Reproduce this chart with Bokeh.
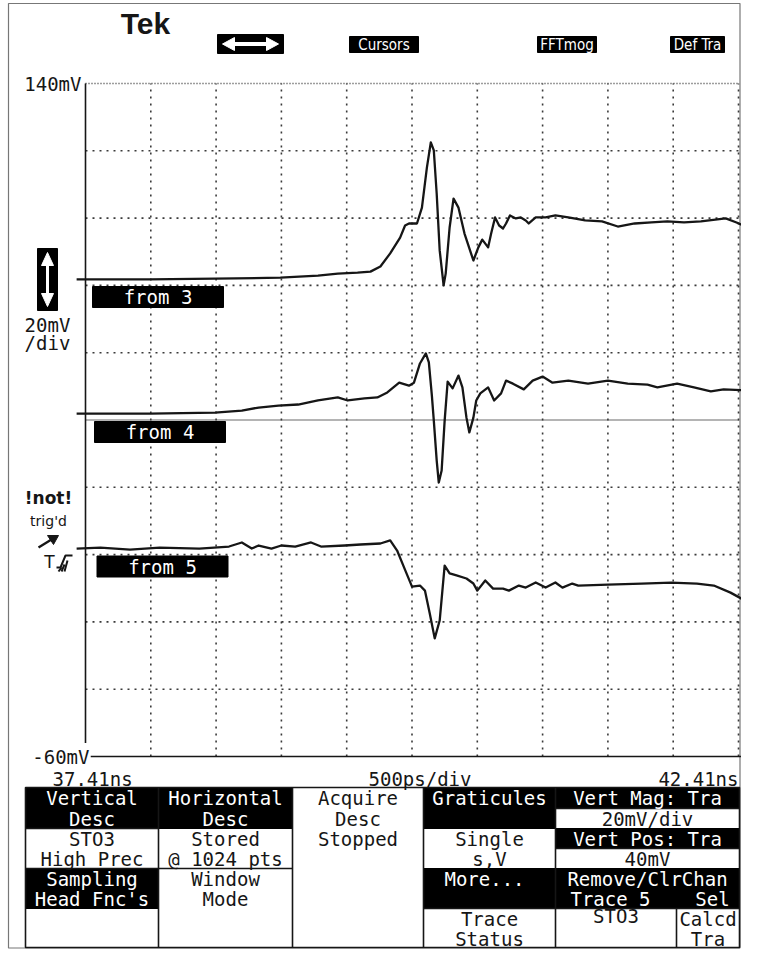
from bokeh.plotting import figure
from bokeh.models import Range1d
from bokeh.embed import file_html
from bokeh.resources import INLINE
from bokeh.core.properties import value

# ---------------- data (time in ns, displayed level in mV) ----------------
t_from3 = [37.342, 37.902, 38.402, 38.902, 39.190, 39.342, 39.493, 39.592, 39.668, 39.743,
           39.819, 39.857, 39.887, 39.948, 39.986, 40.024, 40.054, 40.077, 40.099, 40.122,
           40.152, 40.168, 40.198, 40.228, 40.266, 40.312, 40.380, 40.418, 40.448, 40.493,
           40.516, 40.546, 40.577, 40.607, 40.630, 40.660, 40.705, 40.743, 40.781, 40.804,
           40.857, 40.933, 41.008, 41.107, 41.236, 41.365, 41.486, 41.615, 41.743, 41.865,
           41.993, 42.122, 42.312, 42.395, 42.463]
mv_from3 = [81.8, 81.8, 82.0, 82.3, 82.9, 83.5, 83.8, 84.1, 85.6, 89.5,
            94.2, 97.8, 98.4, 98.4, 103.1, 115.0, 122.5, 120.1, 107.3, 90.4,
            80.0, 83.5, 97.2, 105.8, 103.1, 95.4, 87.4, 91.3, 93.6, 91.3,
            95.4, 100.2, 97.8, 96.9, 98.4, 100.8, 99.9, 100.2, 99.3, 98.4,
            100.2, 100.2, 100.8, 100.2, 99.3, 99.0, 97.5, 98.4, 98.7, 99.0,
            98.7, 99.0, 99.9, 98.7, 97.5]

t_from4 = [37.342, 37.902, 38.402, 38.607, 38.736, 38.887, 39.039, 39.190, 39.342, 39.418,
           39.546, 39.645, 39.721, 39.812, 39.887, 39.925, 39.971, 40.016, 40.039, 40.062,
           40.077, 40.099, 40.115, 40.137, 40.160, 40.183, 40.221, 40.266, 40.296, 40.327,
           40.349, 40.380, 40.402, 40.433, 40.493, 40.539, 40.592, 40.630, 40.683, 40.766,
           40.834, 40.910, 40.986, 41.107, 41.258, 41.410, 41.562, 41.713, 41.789, 41.940,
           42.069, 42.198, 42.296, 42.463]
mv_from4 = [41.9, 41.9, 42.2, 42.8, 43.7, 44.3, 44.6, 45.8, 46.7, 45.8,
            46.4, 46.7, 48.2, 51.1, 50.2, 51.1, 56.8, 59.8, 57.1, 47.3,
            39.8, 28.0, 21.4, 25.0, 39.8, 51.4, 49.4, 53.2, 49.7, 40.7,
            36.3, 40.7, 45.8, 47.9, 49.7, 45.8, 47.9, 51.7, 50.8, 49.1,
            51.7, 52.9, 51.1, 51.7, 50.8, 51.7, 50.8, 50.5, 49.7, 50.8,
            49.7, 48.5, 49.1, 48.8]

t_from5 = [37.342, 37.524, 37.751, 37.978, 38.281, 38.509, 38.607, 38.683, 38.736, 38.834,
           38.910, 39.016, 39.137, 39.213, 39.395, 39.516, 39.668, 39.743, 39.796, 39.849,
           39.910, 39.971, 40.009, 40.046, 40.084, 40.122, 40.160, 40.198, 40.251, 40.327,
           40.380, 40.410, 40.471, 40.531, 40.607, 40.652, 40.728, 40.781, 40.857, 40.933,
           41.008, 41.062, 41.137, 41.183, 41.410, 41.668, 41.895, 42.092, 42.221, 42.349,
           42.433]
mv_from5 = [1.8, 2.1, 1.5, 2.1, 1.8, 2.4, 3.6, 1.8, 2.7, 1.8,
            2.7, 2.4, 3.6, 2.4, 2.7, 3.0, 3.3, 4.2, 1.2, -3.8,
            -9.5, -9.2, -10.7, -17.5, -24.9, -19.6, -3.3, -5.6, -6.2, -7.1,
            -8.6, -10.7, -7.7, -10.1, -10.1, -10.7, -9.2, -9.8, -8.3, -9.8,
            -8.3, -9.8, -8.6, -9.2, -8.9, -8.6, -8.3, -8.6, -9.2, -11.3,
            -13.1]

trace_names = ["from 3", "from 4", "from 5"]

time_ticks_ns = [37.41, 37.91, 38.41, 38.91, 39.41, 39.91, 40.41, 40.91, 41.41, 41.91, 42.41]
level_ticks_mv = [-60, -40, -20, 0, 20, 40, 60, 80, 100, 120, 140]
time_labels = ["37.41ns", "500ps/div", "42.41ns"]
level_labels = ["140mV", "-60mV"]

# ---------------- layout (canvas pixels) ----------------
W, H = 741, 949
GX0, GX1 = 85, 738      # graticule left/right
GY0, GY1 = 83, 756      # graticule top/bottom

t_lo, t_hi = time_ticks_ns[0], time_ticks_ns[-1]
v_lo, v_hi = level_ticks_mv[0], level_ticks_mv[-1]
ns_px = (t_hi - t_lo) / (GX1 - GX0)
mv_px = (v_hi - v_lo) / (GY1 - GY0)

p = figure(width=W, height=H, x_range=Range1d(0, W), y_range=Range1d(H, 0),
           x_axis_location=None, y_axis_location=None, toolbar_location=None,
           output_backend="svg", min_border=0, outline_line_color=None,
           background_fill_color="white", border_fill_color="white")
p.extra_x_ranges = {"t": Range1d(t_lo - GX0 * ns_px, t_hi + (W - GX1) * ns_px)}
p.extra_y_ranges = {"mv": Range1d(v_lo - (H - GY1) * mv_px, v_hi + GY0 * mv_px)}
p.grid.grid_line_color = None

MONO = value("DejaVu Sans Mono")
INK = "#161616"
GRID = "#3a3a3a"

# outer frame of the photo
p.quad(left=[8], right=[739.5], top=[3], bottom=[947.5], fill_color=None,
       line_color="#777777", line_width=1.2)

# ---------------- graticule ----------------
tr = dict(x_range_name="t", y_range_name="mv")
vt = time_ticks_ns[1:]
p.segment(x0=vt, y0=[v_lo] * len(vt), x1=vt, y1=[v_hi] * len(vt),
          line_color=GRID, line_width=1.6, line_dash="2 5", **tr)
hl = [v for v in level_ticks_mv[1:-1] if v != 40]
p.segment(x0=[t_lo] * len(hl), y0=hl, x1=[t_hi] * len(hl), y1=hl,
          line_color=GRID, line_width=1.6, line_dash="2 5", **tr)
p.segment(x0=[t_lo], y0=[40], x1=[t_hi], y1=[40],
          line_color=GRID, line_width=1.4, line_dash="1 1", **tr)
p.segment(x0=[t_lo], y0=[v_hi], x1=[t_hi], y1=[v_hi],
          line_color=GRID, line_width=1.4, line_dash="1 2", **tr)
# solid left axis and bottom line
p.segment(x0=[t_lo], y0=[v_lo + 4], x1=[t_lo], y1=[v_hi],
          line_color=INK, line_width=1.6, **tr)
p.segment(x0=[t_lo + 0.04], y0=[v_lo], x1=[t_hi + 0.03], y1=[v_lo],
          line_color=INK, line_width=1.6, **tr)

# ---------------- traces ----------------
for tt, vv in [(t_from3, mv_from3), (t_from4, mv_from4), (t_from5, mv_from5)]:
    p.line(tt, vv, line_color=INK, line_width=2.3, line_join="round", **tr)

# trace labels (black tags)
tag_x = [157.5, 159.5, 162]
tag_y = [296.5, 431.5, 566]
p.rect(x=tag_x, y=tag_y, width=131, height=21, fill_color="black", line_color="black")
p.text(x=tag_x, y=tag_y, text=trace_names, text_font=MONO, text_font_size="19px",
       text_color="white", text_align="center", text_baseline="middle")

# ---------------- axis texts ----------------
p.text(x=[81], y=[level_ticks_mv[-1]], text=[level_labels[0]], text_font=MONO,
       text_font_size="19px", text_color=INK, text_align="right", text_baseline="middle",
       y_range_name="mv")
p.text(x=[89], y=[level_ticks_mv[0]], text=[level_labels[1]], text_font=MONO,
       text_font_size="19px", text_color=INK, text_align="right", text_baseline="middle",
       y_range_name="mv")
p.text(x=[time_ticks_ns[0]], y=[778], text=[time_labels[0]], text_font=MONO,
       text_font_size="19px", text_color=INK, text_align="left", text_baseline="middle",
       x_offset=-33, x_range_name="t")
p.text(x=[(time_ticks_ns[0] + time_ticks_ns[-1]) / 2], y=[778], text=[time_labels[1]],
       text_font=MONO, text_font_size="19px", text_color=INK, text_align="center",
       text_baseline="middle", x_offset=8, x_range_name="t")
p.text(x=[time_ticks_ns[-1]], y=[778], text=[time_labels[2]], text_font=MONO,
       text_font_size="19px", text_color=INK, text_align="right", text_baseline="middle",
       x_offset=0, x_range_name="t")

# ---------------- left side indicators ----------------
p.rect(x=[47], y=[279], width=20, height=62, fill_color="black", line_color="black")
p.segment(x0=[47], y0=[262], x1=[47], y1=[296], line_color="white", line_width=3)
p.patches(xs=[[47, 41, 53], [47, 41, 53]], ys=[[252, 265, 265], [306, 293, 293]],
          fill_color="white", line_color="white")
p.text(x=[47, 47], y=[324, 342], text=["20mV", "/div"], text_font=MONO,
       text_font_size="19px", text_color=INK, text_align="center", text_baseline="middle")
p.text(x=[48], y=[497], text=["!not!"], text_font=value("DejaVu Sans"),
       text_font_size="17px", text_font_style="bold", text_color=INK,
       text_align="center", text_baseline="middle")
p.text(x=[48], y=[520], text=["trig'd"], text_font=value("DejaVu Sans"),
       text_font_size="14px", text_color=INK, text_align="center", text_baseline="middle")
p.segment(x0=[38], y0=[547], x1=[51], y1=[539], line_color=INK, line_width=2.5)
p.patches(xs=[[58, 47, 53]], ys=[[535, 535, 544]], fill_color=INK, line_color=INK)
p.text(x=[49], y=[561], text=["T"], text_font=value("DejaVu Sans"),
       text_font_size="17px", text_color=INK, text_align="center", text_baseline="middle")
p.multi_line(xs=[[56, 60, 65, 72], [58, 61], [61, 64], [64, 67]],
             ys=[[567, 567, 555, 555], [571, 567], [571, 564], [571, 560]],
             line_color=INK, line_width=2)

# ---------------- top bar ----------------
p.text(x=[145], y=[23], text=["Tek"], text_font=value("Liberation Sans"),
       text_font_size="30px", text_font_style="bold", text_color=INK,
       text_align="center", text_baseline="middle")
p.quad(left=[217, 349, 537, 670], right=[283, 418, 596, 724],
       top=[34, 36, 36, 36], bottom=[53, 52, 52, 52], fill_color="black", line_color="black")
p.segment(x0=[232], y0=[43.5], x1=[268], y1=[43.5], line_color="white", line_width=4)
p.patches(xs=[[222, 234, 234], [278, 266, 266]], ys=[[43.5, 37, 50], [43.5, 37, 50]],
          fill_color="white", line_color="white")
p.text(x=[383.5, 566.5, 697], y=[44, 44, 44], text=["Cursors", "FFTmog", "Def Tra"],
       text_font=value("DejaVu Sans Condensed"), text_font_size="15px", text_color="white",
       text_align="center", text_baseline="middle")

# ---------------- menu table ----------------
R0, R1, R2, R3, R4 = 787, 828, 868, 908, 947
C0, C1, C2, C3, C4, C5, C6 = 25, 158, 292, 423, 555, 676, 739
SA, SB = R0 + 21, R1 + 20
black_l = [C0, C3, C4, C4, C0, C3]
black_r = [C2, C4, C6, C6, C1, C6]
black_t = [R0, R0, R0, R1, R2, R2]
black_b = [R1, R1, SA, SB, R3, R3]
p.quad(left=black_l, right=black_r, top=black_t, bottom=black_b,
       fill_color="black", line_color="black")
p.quad(left=[C0], right=[C6], top=[R0], bottom=[R4], fill_color=None,
       line_color=INK, line_width=1.6)
p.segment(x0=[C1, C2, C3, C4, C5, C0, C0, C3, C4, C4],
          y0=[R0, R0, R0, R0, R3, R2, R1, R3, SA, SB],
          x1=[C1, C2, C3, C4, C5, C2, C1, C6, C6, C6],
          y1=[R4, R4, R4, R4, R4, R2, R1, R3, SA, SB],
          line_color=INK, line_width=1.6)

m0, m1, m2, m3 = (C0 + C1) / 2, (C1 + C2) / 2, (C2 + C3) / 2, (C3 + C4) / 2
m46, m4, m5 = (C4 + C6) / 2, (C4 + C5) / 2, (C5 + C6) / 2
a1, a2 = R0 + 10, R0 + 31
b1, b2 = R1 + 10, R1 + 30
c1, c2 = R2 + 10, R2 + 30
d1, d2 = R3 + 10, R3 + 30
white_txt = [("Vertical", m0, a1), ("Desc", m0, a2), ("Horizontal", m1, a1),
             ("Desc", m1, a2), ("Graticules", m3, a1), ("Vert Mag: Tra", m46, a1),
             ("Vert Pos: Tra", m46, b1), ("Sampling", m0, c1), ("Head Fnc's", m0, c2),
             ("More...", m3 - 5, c1), ("Remove/ClrChan", m46, c1),
             ("Trace 5", 610, c2), ("Sel", 712, c2)]
dark_txt = [("Acquire", m2, a1), ("Desc", m2, a2), ("Stopped", m2, b1),
            ("20mV/div", m46, a2), ("STO3", m0, b1), ("High Prec", m0, b2),
            ("Stored", m1, b1), ("@ 1024 pts", m1, b2), ("Single", m3, b1),
            ("s,V", m3, b2), ("40mV", m46, b2), ("Window", m1, c1), ("Mode", m1, c2),
            ("Trace", m3, d1), ("Status", m3, d2), ("STO3", m4, d1 - 3),
            ("Calcd", m5, d1), ("Tra", m5, d2)]
for items, col in [(white_txt, "white"), (dark_txt, INK)]:
    p.text(x=[i[1] for i in items], y=[i[2] for i in items], text=[i[0] for i in items],
           text_font=MONO, text_font_size="19px", text_color=col,
           text_align="center", text_baseline="middle")

open("out.html", "w").write(file_html(p, INLINE))
